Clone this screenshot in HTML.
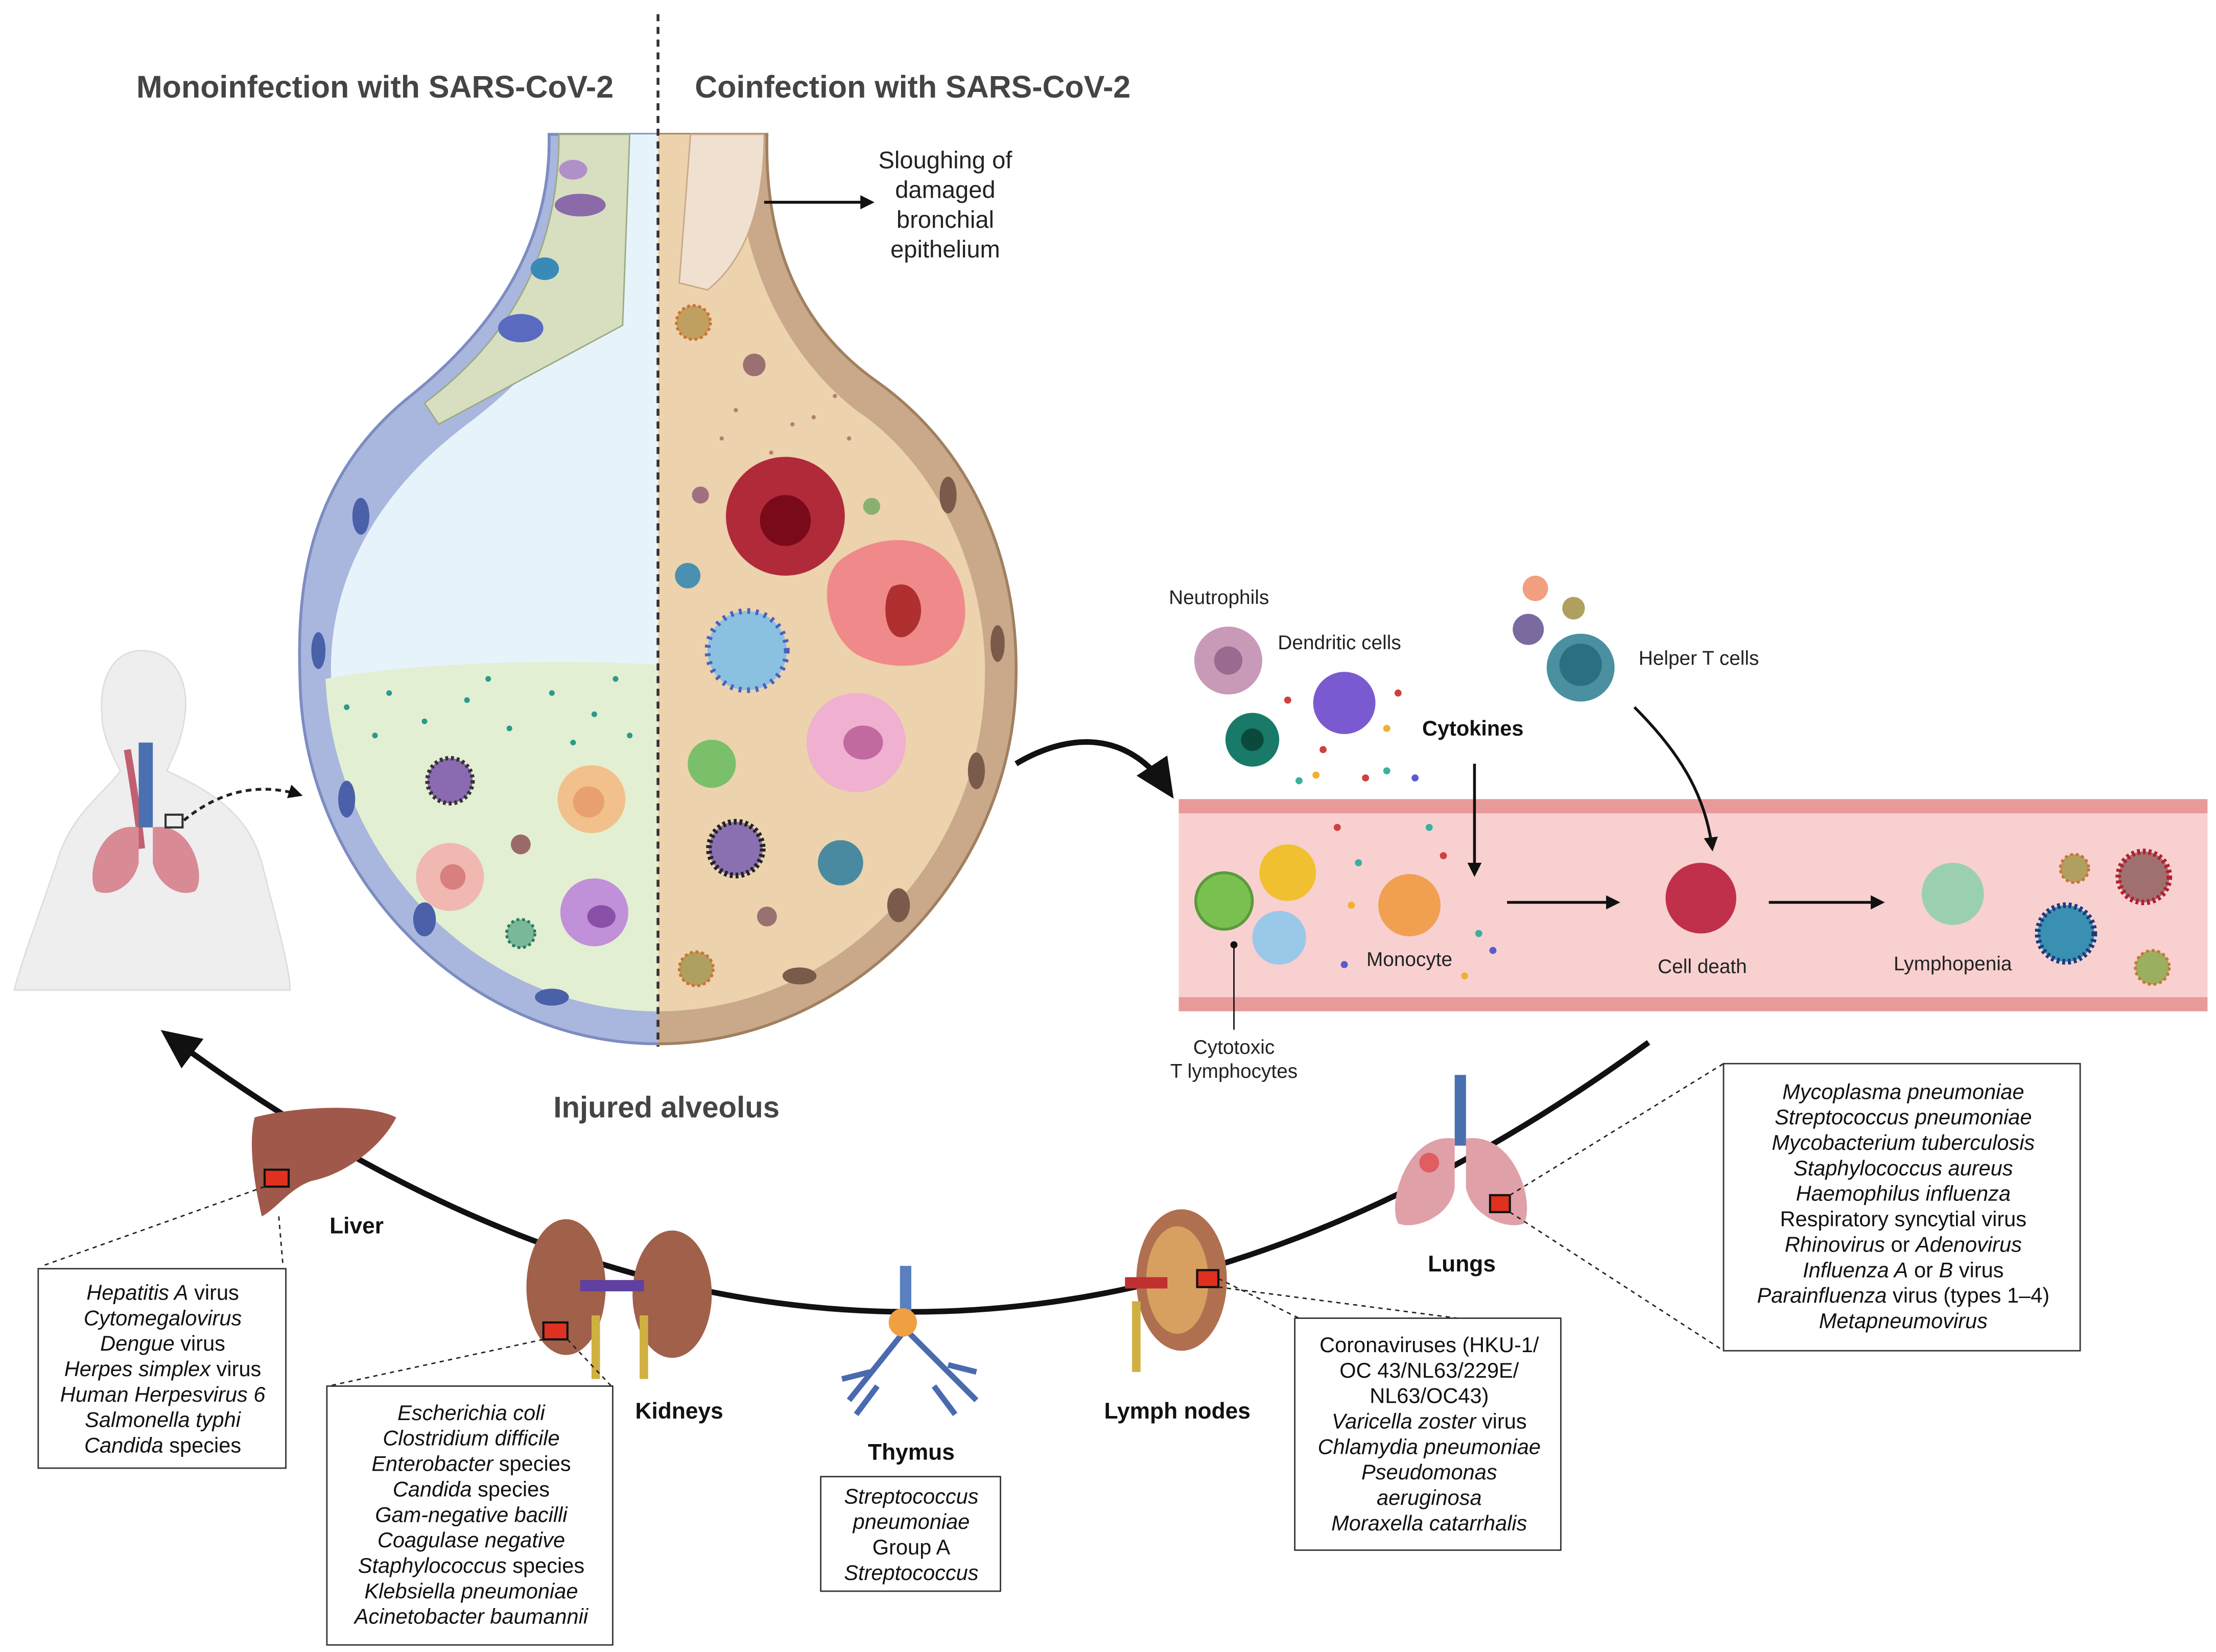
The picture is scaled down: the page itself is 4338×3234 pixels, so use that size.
<!DOCTYPE html>
<html><head><meta charset="utf-8">
<style>
html,body{margin:0;padding:0;background:#fff;}
svg{display:block;}
text{font-family:"Liberation Sans",sans-serif;}
.t{font-size:15px;fill:#111;text-anchor:middle;}
.i{font-style:italic;}
.lbl{font-size:14px;fill:#222;}
.b{font-weight:bold;}
</style></head>
<body>
<svg width="4338" height="3234" viewBox="0 0 1566 1168" preserveAspectRatio="none" xmlns="http://www.w3.org/2000/svg">
<defs>
<marker id="ah" markerWidth="10" markerHeight="10" refX="8" refY="5" orient="auto" markerUnits="userSpaceOnUse"><path d="M0,0 L10,5 L0,10 z" fill="#111"/></marker>
<marker id="ahb" markerWidth="30" markerHeight="30" refX="20" refY="15" orient="auto" markerUnits="userSpaceOnUse"><path d="M0,2 L28,15 L0,28 z" fill="#111"/></marker>
<clipPath id="alvL"><rect x="0" y="0" width="465" height="1168"/></clipPath>
<clipPath id="alvR"><rect x="465" y="0" width="1000" height="1168"/></clipPath>
</defs>

<!-- Titles -->
<text x="265" y="69" font-size="22" font-weight="bold" fill="#444" text-anchor="middle">Monoinfection with SARS-CoV-2</text>
<text x="645" y="69" font-size="22" font-weight="bold" fill="#444" text-anchor="middle">Coinfection with SARS-CoV-2</text>

<!-- Alveolus outer -->
<path id="alv" d="M388,95 C390,180 340,240 290,280 C215,340 210,420 212,480 C214,620 330,738 465,738 C600,738 716,620 718,480 C720,400 690,320 620,270 C570,235 540,180 542,95 Z" fill="#a9b6de" stroke="#7d8cc0" stroke-width="2" clip-path="url(#alvL)"/>
<path d="M388,95 C390,180 340,240 290,280 C215,340 210,420 212,480 C214,620 330,738 465,738 C600,738 716,620 718,480 C720,400 690,320 620,270 C570,235 540,180 542,95 Z" fill="#c9a98a" stroke="#a08060" stroke-width="2" clip-path="url(#alvR)"/>
<!-- inner lumen -->
<path d="M440,95 C440,170 410,240 330,300 C250,360 232,430 234,480 C236,610 340,715 465,715 C590,715 694,610 696,480 C698,410 665,330 605,290 C560,255 520,190 520,95 Z" fill="#e6f3fb" clip-path="url(#alvL)"/>
<path d="M440,95 C440,170 410,240 330,300 C250,360 232,430 234,480 C236,610 340,715 465,715 C590,715 694,610 696,480 C698,410 665,330 605,290 C560,255 520,190 520,95 Z" fill="#ecd2ad" clip-path="url(#alvR)"/>
<!-- fluid green -->
<path d="M230,480 C280,470 380,465 465,470 L465,715 C340,715 236,610 230,480 Z" fill="#e3efd2"/>
<!-- epithelium left -->
<g fill="#d7dfc0" stroke="#9aaa80" stroke-width="1">
<path d="M395,95 L445,95 L440,230 L310,300 L300,285 C360,240 395,180 395,95 Z"/>
</g>
<ellipse cx="410" cy="145" rx="18" ry="8" fill="#8a6aa8"/>
<ellipse cx="385" cy="190" rx="10" ry="8" fill="#3a8ab8"/>
<ellipse cx="368" cy="232" rx="16" ry="10" fill="#5a6ac0"/>
<ellipse cx="405" cy="120" rx="10" ry="7" fill="#b090c8"/>
<!-- epithelium right -->
<path d="M488,95 L540,95 C540,150 525,185 500,205 L480,200 Z" fill="#f0e0d0" stroke="#c8a888"/>
<!-- wall nuclei -->
<g fill="#4a60a8">
<ellipse cx="255" cy="365" rx="6" ry="13"/><ellipse cx="225" cy="460" rx="5" ry="13"/><ellipse cx="245" cy="565" rx="6" ry="13"/><ellipse cx="300" cy="650" rx="8" ry="12"/><ellipse cx="390" cy="705" rx="12" ry="6"/>
</g>
<g fill="#7a5a4a">
<ellipse cx="670" cy="350" rx="6" ry="13"/><ellipse cx="705" cy="455" rx="5" ry="13"/><ellipse cx="690" cy="545" rx="6" ry="13"/><ellipse cx="635" cy="640" rx="8" ry="12"/><ellipse cx="565" cy="690" rx="12" ry="6"/>
</g>
<!-- left cells -->
<g fill="#2a9a8a">
<circle cx="245" cy="500" r="2"/><circle cx="275" cy="490" r="2"/><circle cx="300" cy="510" r="2"/><circle cx="330" cy="495" r="2"/><circle cx="360" cy="515" r="2"/><circle cx="390" cy="490" r="2"/><circle cx="420" cy="505" r="2"/><circle cx="445" cy="520" r="2"/><circle cx="265" cy="520" r="2"/><circle cx="345" cy="480" r="2"/><circle cx="405" cy="525" r="2"/><circle cx="435" cy="480" r="2"/>
</g>
<circle cx="318" cy="552" r="16" fill="#8a6ab0" stroke="#333" stroke-width="3" stroke-dasharray="2 2"/>
<circle cx="418" cy="565" r="24" fill="#f2c08a"/><circle cx="416" cy="567" r="11" fill="#e8a070"/>
<circle cx="318" cy="620" r="24" fill="#f0b8b0"/><circle cx="320" cy="620" r="9" fill="#d88080"/>
<circle cx="420" cy="645" r="24" fill="#c090d8"/><ellipse cx="425" cy="648" rx="10" ry="8" fill="#8a50a8"/>
<circle cx="368" cy="597" r="7" fill="#9a6a6a"/>
<circle cx="368" cy="660" r="10" fill="#7ab89a" stroke="#2a7a5a" stroke-width="2" stroke-dasharray="2 2"/>
<!-- right cells -->
<circle cx="555" cy="365" r="42" fill="#b02a3a"/><circle cx="555" cy="368" r="18" fill="#7a0a1a"/>
<path d="M595,395 C630,370 680,380 682,430 C684,470 640,478 610,465 C585,455 575,410 595,395 Z" fill="#f08a8a"/><path d="M630,415 C650,405 660,440 640,450 C625,455 622,425 630,415Z" fill="#b03030"/>
<circle cx="528" cy="460" r="28" fill="#8ac0e0" stroke="#4a60c0" stroke-width="4" stroke-dasharray="2 4"/>
<circle cx="605" cy="525" r="35" fill="#f0b0d0"/><ellipse cx="610" cy="525" rx="14" ry="12" fill="#c06aa0"/>
<circle cx="503" cy="540" r="17" fill="#7ac06a"/>
<circle cx="520" cy="600" r="19" fill="#8a70b0" stroke="#222" stroke-width="4" stroke-dasharray="2 2"/>
<circle cx="594" cy="610" r="16" fill="#4a8aa0"/>
<circle cx="490" cy="228" r="12" fill="#c0a060" stroke="#d07030" stroke-width="2" stroke-dasharray="2 2"/>
<circle cx="533" cy="258" r="8" fill="#9a7070"/>
<circle cx="486" cy="407" r="9" fill="#4a90b0"/>
<circle cx="495" cy="350" r="6" fill="#a07080"/>
<circle cx="616" cy="358" r="6" fill="#8ab070"/>
<circle cx="492" cy="685" r="12" fill="#b0a060" stroke="#d07030" stroke-width="2" stroke-dasharray="2 2"/>
<circle cx="542" cy="648" r="7" fill="#9a7070"/>
<g fill="#b08070"><circle cx="520" cy="290" r="1.5"/><circle cx="560" cy="300" r="1.5"/><circle cx="590" cy="280" r="1.5"/><circle cx="545" cy="320" r="1.5"/><circle cx="600" cy="310" r="1.5"/><circle cx="510" cy="310" r="1.5"/><circle cx="575" cy="295" r="1.5"/></g>

<line x1="465" y1="10" x2="465" y2="740" stroke="#333" stroke-width="2" stroke-dasharray="5 4"/>

<!-- Sloughing -->
<line x1="540" y1="143" x2="616" y2="143" stroke="#111" stroke-width="2" marker-end="url(#ah)"/>
<text x="668" y="119" font-size="17" fill="#222" text-anchor="middle">Sloughing of</text>
<text x="668" y="140" font-size="17" fill="#222" text-anchor="middle">damaged</text>
<text x="668" y="161" font-size="17" fill="#222" text-anchor="middle">bronchial</text>
<text x="668" y="182" font-size="17" fill="#222" text-anchor="middle">epithelium</text>

<text x="471" y="790" font-size="21" font-weight="bold" fill="#444" text-anchor="middle">Injured alveolus</text>

<!-- human figure -->
<path d="M100,460 C125,460 135,485 130,510 C128,525 122,535 118,545 C150,560 175,575 185,610 C195,650 205,685 205,700 L10,700 C15,680 30,640 40,610 C50,575 75,560 85,545 C80,535 72,520 72,505 C70,480 80,460 100,460 Z" fill="#eeeeee" stroke="#dddddd"/>
<path d="M90,530 C95,560 98,580 100,600" stroke="#c06070" stroke-width="5" fill="none"/>
<rect x="98" y="525" width="10" height="60" fill="#4a70b0"/>
<path d="M98,585 C70,580 60,620 68,630 C80,635 95,625 98,610 Z" fill="#d88a95"/>
<path d="M108,585 C136,580 146,620 138,630 C126,635 111,625 108,610 Z" fill="#d88a95"/>
<rect x="117" y="576" width="12" height="9" fill="none" stroke="#333" stroke-width="1.5"/>
<path d="M130,580 C160,555 190,555 212,562" stroke="#222" stroke-width="2" fill="none" stroke-dasharray="4 3" marker-end="url(#ah)"/>

<!-- curved arrow to vessel -->
<path d="M718,540 C760,515 800,520 825,558" stroke="#111" stroke-width="4" fill="none" marker-end="url(#ahb)"/>

<!-- Vessel -->
<rect x="833" y="565" width="727" height="150" fill="#f8d0d0"/>
<rect x="833" y="565" width="727" height="10" fill="#e89a9a"/>
<rect x="833" y="705" width="727" height="10" fill="#e89a9a"/>

<!-- immune labels & cells -->
<text x="826" y="427" class="lbl">Neutrophils</text>
<circle cx="868" cy="467" r="24" fill="#c89ab8"/><circle cx="868" cy="467" r="10" fill="#9a6a90"/>
<text x="903" y="459" class="lbl">Dendritic cells</text>
<circle cx="950" cy="497" r="22" fill="#7a5ad0"/>
<circle cx="885" cy="523" r="19" fill="#1a7a6a"/><circle cx="885" cy="523" r="8" fill="#0a4a3a"/>
<text x="1005" y="520" font-size="15" font-weight="bold" fill="#111">Cytokines</text>
<circle cx="1085" cy="416" r="9" fill="#f0a080"/><circle cx="1112" cy="430" r="8" fill="#b0a060"/><circle cx="1080" cy="445" r="11" fill="#7a6aa0"/>
<circle cx="1117" cy="472" r="24" fill="#4a90a0"/><circle cx="1117" cy="470" r="15" fill="#2a7080"/>
<text x="1158" y="470" class="lbl">Helper T cells</text>
<g fill="#d04040"><circle cx="910" cy="495" r="2.5"/><circle cx="935" cy="530" r="2.5"/><circle cx="965" cy="550" r="2.5"/><circle cx="988" cy="490" r="2.5"/><circle cx="945" cy="585" r="2.5"/><circle cx="1020" cy="605" r="2.5"/></g>
<g fill="#3ab0a0"><circle cx="918" cy="552" r="2.5"/><circle cx="980" cy="545" r="2.5"/><circle cx="960" cy="610" r="2.5"/><circle cx="1045" cy="660" r="2.5"/><circle cx="1010" cy="585" r="2.5"/></g>
<g fill="#f0b030"><circle cx="980" cy="515" r="2.5"/><circle cx="930" cy="548" r="2.5"/><circle cx="955" cy="640" r="2.5"/><circle cx="1035" cy="690" r="2.5"/></g>
<g fill="#5a5ad0"><circle cx="1000" cy="550" r="2.5"/><circle cx="950" cy="682" r="2.5"/><circle cx="1055" cy="672" r="2.5"/></g>
<line x1="1042" y1="540" x2="1042" y2="618" stroke="#111" stroke-width="2" marker-end="url(#ah)"/>
<path d="M1155,500 C1185,530 1205,560 1210,600" stroke="#111" stroke-width="2" fill="none" marker-end="url(#ah)"/>

<circle cx="865" cy="637" r="20" fill="#7ac050" stroke="#5a9a3a" stroke-width="2"/>
<circle cx="910" cy="617" r="20" fill="#f0c030"/>
<circle cx="904" cy="663" r="19" fill="#9ac8e8"/>
<circle cx="996" cy="640" r="22" fill="#f0a050"/>
<text x="996" y="683" class="lbl" text-anchor="middle">Monocyte</text>
<line x1="1065" y1="638" x2="1143" y2="638" stroke="#111" stroke-width="2" marker-end="url(#ah)"/>
<circle cx="1202" cy="635" r="25" fill="#c0304a"/>
<text x="1203" y="688" class="lbl" text-anchor="middle">Cell death</text>
<line x1="1250" y1="638" x2="1330" y2="638" stroke="#111" stroke-width="2" marker-end="url(#ah)"/>
<circle cx="1380" cy="632" r="22" fill="#9ad0b0"/>
<text x="1380" y="686" class="lbl" text-anchor="middle">Lymphopenia</text>
<circle cx="1466" cy="614" r="10" fill="#b0a060" stroke="#d07030" stroke-width="2" stroke-dasharray="2 2"/>
<circle cx="1515" cy="620" r="18" fill="#a07070" stroke="#b02030" stroke-width="4" stroke-dasharray="2 2"/>
<circle cx="1460" cy="660" r="20" fill="#3a90b0" stroke="#1a3a80" stroke-width="4" stroke-dasharray="2 2"/>
<circle cx="1521" cy="684" r="12" fill="#9ab060" stroke="#d07030" stroke-width="2" stroke-dasharray="2 2"/>
<circle cx="872" cy="668" r="2.5" fill="#111"/>
<line x1="872" y1="668" x2="872" y2="728" stroke="#111" stroke-width="1"/>
<text x="872" y="745" class="lbl" text-anchor="middle">Cytotoxic</text>
<text x="872" y="762" class="lbl" text-anchor="middle">T lymphocytes</text>

<!-- Big arc -->
<path d="M1165,737 Q640,1120 120,733" stroke="#111" stroke-width="4" fill="none" marker-end="url(#ahb)"/>

<!-- Liver -->
<path d="M180,790 C210,782 260,780 280,790 C270,810 245,830 220,835 C205,840 195,855 185,860 C178,830 176,805 180,790 Z" fill="#a0584a"/>
<rect x="187" y="827" width="17" height="12" fill="#e03020" stroke="#111" stroke-width="1.5"/>
<text x="252" y="872" font-size="16" font-weight="bold" fill="#111" text-anchor="middle">Liver</text>
<line x1="187" y1="839" x2="30" y2="895" stroke="#222" stroke-dasharray="3 3"/>
<line x1="197" y1="860" x2="200" y2="895" stroke="#222" stroke-dasharray="3 3"/>
<rect x="27" y="897" width="175" height="141" fill="#fff" stroke="#333"/>
<text class="t" x="115" y="919"><tspan class="i">Hepatitis A</tspan> virus</text>
<text class="t i" x="115" y="937">Cytomegalovirus</text>
<text class="t" x="115" y="955"><tspan class="i">Dengue</tspan> virus</text>
<text class="t" x="115" y="973"><tspan class="i">Herpes simplex</tspan> virus</text>
<text class="t i" x="115" y="991">Human Herpesvirus 6</text>
<text class="t i" x="115" y="1009">Salmonella typhi</text>
<text class="t" x="115" y="1027"><tspan class="i">Candida</tspan> species</text>

<!-- Kidneys -->
<ellipse cx="400" cy="910" rx="28" ry="48" fill="#a0604a"/>
<ellipse cx="475" cy="915" rx="28" ry="45" fill="#a0604a"/>
<rect x="410" y="905" width="45" height="8" fill="#6040a0"/>
<rect x="418" y="930" width="6" height="45" fill="#d0b040"/><rect x="452" y="930" width="6" height="45" fill="#d0b040"/>
<rect x="384" y="935" width="17" height="12" fill="#e03020" stroke="#111" stroke-width="1.5"/>
<text x="480" y="1003" font-size="16" font-weight="bold" fill="#111" text-anchor="middle">Kidneys</text>
<line x1="384" y1="947" x2="232" y2="980" stroke="#222" stroke-dasharray="3 3"/>
<line x1="401" y1="947" x2="432" y2="980" stroke="#222" stroke-dasharray="3 3"/>
<rect x="231" y="980" width="202" height="183" fill="#fff" stroke="#333"/>
<text class="t i" x="333" y="1004">Escherichia coli</text>
<text class="t i" x="333" y="1022">Clostridium difficile</text>
<text class="t" x="333" y="1040"><tspan class="i">Enterobacter</tspan> species</text>
<text class="t" x="333" y="1058"><tspan class="i">Candida</tspan> species</text>
<text class="t i" x="333" y="1076">Gam-negative bacilli</text>
<text class="t i" x="333" y="1094">Coagulase negative</text>
<text class="t" x="333" y="1112"><tspan class="i">Staphylococcus</tspan> species</text>
<text class="t i" x="333" y="1130">Klebsiella pneumoniae</text>
<text class="t i" x="333" y="1148">Acinetobacter baumannii</text>

<!-- Thymus -->
<rect x="636" y="895" width="8" height="45" fill="#5a80c0"/>
<path d="M640,940 L600,990 M640,940 L690,990 M615,970 L595,975 M670,965 L690,970 M620,980 L605,1000 M660,980 L675,1000" stroke="#4a6ab0" stroke-width="4" fill="none"/>
<circle cx="638" cy="935" r="10" fill="#f0a040"/>
<text x="644" y="1032" font-size="16" font-weight="bold" fill="#111" text-anchor="middle">Thymus</text>
<rect x="580" y="1044" width="127" height="81" fill="#fff" stroke="#333"/>
<text class="t i" x="644" y="1063">Streptococcus</text>
<text class="t i" x="644" y="1081">pneumoniae</text>
<text class="t" x="644" y="1099">Group A</text>
<text class="t i" x="644" y="1117">Streptococcus</text>

<!-- Lymph nodes -->
<ellipse cx="835" cy="905" rx="32" ry="50" fill="#b07050"/>
<ellipse cx="832" cy="905" rx="22" ry="38" fill="#d8a060"/>
<rect x="795" y="903" width="30" height="8" fill="#c03030"/>
<rect x="800" y="920" width="6" height="50" fill="#d0b040"/>
<rect x="846" y="898" width="15" height="12" fill="#e03020" stroke="#111" stroke-width="1.5"/>
<text x="832" y="1003" font-size="16" font-weight="bold" fill="#111" text-anchor="middle">Lymph nodes</text>
<line x1="861" y1="910" x2="1030" y2="932" stroke="#222" stroke-dasharray="3 3"/>
<line x1="861" y1="904" x2="918" y2="932" stroke="#222" stroke-dasharray="3 3"/>
<rect x="915" y="932" width="188" height="164" fill="#fff" stroke="#333"/>
<text class="t" x="1010" y="956">Coronaviruses (HKU-1/</text>
<text class="t" x="1010" y="974">OC 43/NL63/229E/</text>
<text class="t" x="1010" y="992">NL63/OC43)</text>
<text class="t" x="1010" y="1010"><tspan class="i">Varicella zoster</tspan> virus</text>
<text class="t i" x="1010" y="1028">Chlamydia pneumoniae</text>
<text class="t i" x="1010" y="1046">Pseudomonas</text>
<text class="t i" x="1010" y="1064">aeruginosa</text>
<text class="t i" x="1010" y="1082">Moraxella catarrhalis</text>

<!-- Lungs -->
<rect x="1028" y="760" width="8" height="50" fill="#4a70b0"/>
<path d="M1028,805 C995,800 980,850 988,865 C1000,870 1025,860 1028,840 Z" fill="#e0a0a8"/>
<path d="M1036,805 C1070,800 1085,850 1077,865 C1065,870 1040,860 1036,840 Z" fill="#e0a0a8"/>
<circle cx="1010" cy="822" r="7" fill="#e03030" opacity="0.6"/>
<rect x="1053" y="845" width="14" height="12" fill="#e03020" stroke="#111" stroke-width="1.5"/>
<text x="1033" y="899" font-size="16" font-weight="bold" fill="#111" text-anchor="middle">Lungs</text>
<line x1="1067" y1="845" x2="1218" y2="752" stroke="#222" stroke-dasharray="3 3"/>
<line x1="1067" y1="857" x2="1218" y2="955" stroke="#222" stroke-dasharray="3 3"/>
<rect x="1218" y="752" width="252" height="203" fill="#fff" stroke="#333"/>
<text class="t i" x="1345" y="777">Mycoplasma pneumoniae</text>
<text class="t i" x="1345" y="795">Streptococcus pneumoniae</text>
<text class="t i" x="1345" y="813">Mycobacterium tuberculosis</text>
<text class="t i" x="1345" y="831">Staphylococcus aureus</text>
<text class="t i" x="1345" y="849">Haemophilus influenza</text>
<text class="t" x="1345" y="867">Respiratory syncytial virus</text>
<text class="t" x="1345" y="885"><tspan class="i">Rhinovirus</tspan> or <tspan class="i">Adenovirus</tspan></text>
<text class="t" x="1345" y="903"><tspan class="i">Influenza A</tspan> or <tspan class="i">B</tspan> virus</text>
<text class="t" x="1345" y="921"><tspan class="i">Parainfluenza</tspan> virus (types 1–4)</text>
<text class="t i" x="1345" y="939">Metapneumovirus</text>
</svg>
</body></html>
